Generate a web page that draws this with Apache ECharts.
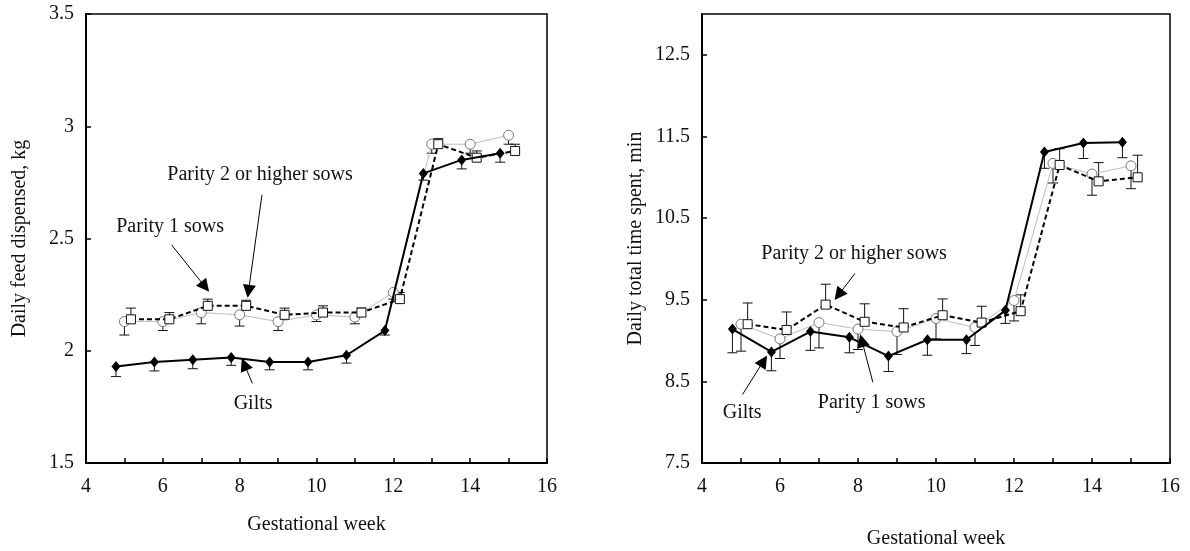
<!DOCTYPE html>
<html>
<head>
<meta charset="utf-8">
<script src="https://cdn.jsdelivr.net/npm/echarts@6/dist/echarts.min.js"></script>
<style>
  html, body { margin: 0; padding: 0; background: #fff; }
  #chart { width: 1190px; height: 551px; }
</style>
</head>
<body>
<div id="chart"></div>
<script>
// gestational week (each group is nudged sideways when drawn)
const weeks = [5, 6, 7, 8, 9, 10, 11, 12, 13, 14, 15];

// left panel: daily feed dispensed, kg
const feedGilts    = [1.93, 1.95, 1.96, 1.97, 1.95, 1.95, 1.98, 2.09, 2.79, 2.85, 2.88];
const feedGiltsErr = [0.045, 0.04, 0.04, 0.035, 0.035, 0.035, 0.035, 0.02, 0.03, 0.04, 0.04];
const feedP1       = [2.13, 2.13, 2.17, 2.16, 2.13, 2.16, 2.15, 2.26, 2.92, 2.92, 2.96];
const feedP1Err    = [0.06, 0.04, 0.05, 0.05, 0.04, 0.03, 0.03, 0.03, 0.04, 0.04, 0.04];
const feedP2       = [2.14, 2.14, 2.20, 2.20, 2.16, 2.17, 2.17, 2.23, 2.92, 2.86, 2.89];
const feedP2Err    = [0.05, 0.03, 0.03, 0.025, 0.03, 0.03, 0.02, 0.03, 0.025, 0.03, 0.03];

// right panel: daily total time spent, min
const timeGilts    = [9.14, 8.86, 9.11, 9.04, 8.81, 9.01, 9.01, 9.37, 11.31, 11.42, 11.43];
const timeGiltsErr = [0.29, 0.23, 0.23, 0.19, 0.19, 0.19, 0.17, 0.16, 0.2, 0.19, 0.19];
const timeP1       = [9.20, 9.02, 9.22, 9.14, 9.11, 9.27, 9.16, 9.49, 11.17, 11.04, 11.14];
const timeP1Err    = [0.33, 0.24, 0.31, 0.25, 0.28, 0.25, 0.22, 0.25, 0.24, 0.26, 0.28];
const timeP2       = [9.20, 9.13, 9.44, 9.23, 9.16, 9.31, 9.22, 9.36, 11.15, 10.95, 11.00];
const timeP2Err    = [0.26, 0.22, 0.25, 0.22, 0.23, 0.20, 0.20, 0.20, 0.20, 0.23, 0.27];

const feedTicks = [1.5, 2, 2.5, 3, 3.5];
const timeTicks = [7.5, 8.5, 9.5, 10.5, 11.5, 12.5];

// annotation text [label, x, y] and arrows [x1, y1, x2, y2] in data units
const feedNotes = [['Parity 2 or higher sows', 8.53, 2.783], ['Parity 1 sows', 6.19, 2.553], ['Gilts', 8.35, 1.766]];
const feedArrows = [[8.58, 2.694, 8.23, 2.265], [6.23, 2.471, 7.1, 2.285], [8.33, 1.855, 8.12, 1.94]];
const timeNotes = [['Parity 2 or higher sows', 7.9, 10.06], ['Parity 1 sows', 8.35, 8.24], ['Gilts', 5.03, 8.11]];
const timeArrows = [[7.92, 9.82, 7.5, 9.56], [8.38, 8.49, 8.1, 9.0], [5.04, 8.34, 5.58, 8.75]];

const SHIFT_GILTS = -0.22, SHIFT_P1 = 0, SHIFT_P2 = 0.17;
const FONT = '"Liberation Serif", "Times New Roman", serif';

const pts = (ys, shift) => weeks.map((w, i) => [w + shift, ys[i]]);

function errorBars(ys, errs, shift, dir, idx) {
  return {
    type: 'custom', xAxisIndex: idx, yAxisIndex: idx, z: 1, silent: true,
    data: weeks.map((w, i) => [w + shift, ys[i], ys[i] + dir * errs[i]]),
    encode: { x: 0, y: [1, 2] },
    renderItem(params, api) {
      const a = api.coord([api.value(0), api.value(1)]);
      const b = api.coord([api.value(0), api.value(2)]);
      const st = { stroke: '#111', lineWidth: 1 };
      return { type: 'group', children: [
        { type: 'line', shape: { x1: a[0], y1: a[1], x2: b[0], y2: b[1] }, style: st },
        { type: 'line', shape: { x1: b[0] - 5, y1: b[1], x2: b[0] + 5, y2: b[1] }, style: st }
      ] };
    }
  };
}

function lines(g, p1, p2, idx, notes, arrows) {
  return [
    errorBars(g[0], g[1], SHIFT_GILTS, -1, idx),
    errorBars(p1[0], p1[1], SHIFT_P1, -1, idx),
    errorBars(p2[0], p2[1], SHIFT_P2, 1, idx),
    {
      type: 'line', xAxisIndex: idx, yAxisIndex: idx, z: 3, data: pts(p1[0], SHIFT_P1),
      symbol: 'circle', symbolSize: 10,
      lineStyle: { color: '#bdbdbd', width: 1 },
      itemStyle: { color: '#fff', borderColor: '#777', borderWidth: 1 }
    },
    {
      type: 'line', xAxisIndex: idx, yAxisIndex: idx, z: 4, data: pts(p2[0], SHIFT_P2),
      symbol: 'rect', symbolSize: 9,
      lineStyle: { color: '#000', width: 2, type: [5, 3] },
      itemStyle: { color: '#fff', borderColor: '#111', borderWidth: 1 }
    },
    {
      type: 'line', xAxisIndex: idx, yAxisIndex: idx, z: 5, data: pts(g[0], SHIFT_GILTS),
      symbol: 'diamond', symbolSize: [9, 11],
      lineStyle: { color: '#000', width: 2 },
      itemStyle: { color: '#000' },
      markLine: {
        silent: true, animation: false, symbol: ['none', 'triangle'], symbolSize: 13,
        lineStyle: { color: '#000', width: 1, type: 'solid' },
        itemStyle: { color: '#000' }, label: { show: false },
        data: arrows.map(a => [{ coord: [a[0], a[1]] }, { coord: [a[2], a[3]] }])
      },
      markPoint: {
        silent: true, animation: false, symbol: 'circle', symbolSize: 1,
        itemStyle: { color: 'rgba(0,0,0,0)' },
        label: { show: true, position: 'inside', formatter: '{b}', color: '#111', fontSize: 20, fontFamily: FONT },
        data: notes.map(n => ({ name: n[0], coord: [n[1], n[2]] }))
      }
    }
  ];
}

const xAxisBase = (idx, gap) => ({
  type: 'value', gridIndex: idx, min: 4, max: 16, interval: 1,
  name: 'Gestational week', nameLocation: 'middle', nameGap: gap,
  nameTextStyle: { fontFamily: FONT, fontSize: 20, color: '#111' },
  axisLine: { show: true, lineStyle: { color: '#000', width: 2 } },
  axisTick: { show: true, inside: true, length: 5, lineStyle: { color: '#000', width: 1.5 } },
  axisLabel: { fontFamily: FONT, fontSize: 20, color: '#111', margin: 14,
    formatter: v => (v % 2 === 0 ? String(v) : '') },
  splitLine: { show: false }
});

const chart = echarts.init(document.getElementById('chart'), null, { renderer: 'canvas' });
chart.setOption({
  animation: false,
  backgroundColor: '#fff',
  grid: [
    { left: 86, top: 14, width: 461, height: 449, show: true, borderColor: '#000', borderWidth: 1.5,
      outerBoundsMode: 'none', containLabel: false },
    { left: 702, top: 14, width: 468, height: 449, show: true, borderColor: '#000', borderWidth: 1.5,
      outerBoundsMode: 'none', containLabel: false }
  ],
  xAxis: [xAxisBase(0, 52), xAxisBase(1, 66)],
  yAxis: [
    {
      type: 'value', gridIndex: 0, min: 1.5, max: 3.5, interval: 0.5,
      name: 'Daily feed dispensed, kg', nameLocation: 'middle', nameGap: 56,
      nameTextStyle: { fontFamily: FONT, fontSize: 20, color: '#111' },
      axisLine: { show: true, lineStyle: { color: '#000', width: 2 } },
      axisTick: { show: true, inside: true, length: 5, lineStyle: { color: '#000', width: 1.5 } },
      axisLabel: { fontFamily: FONT, fontSize: 20, color: '#111', margin: 12,
        customValues: feedTicks, formatter: v => String(v) },
      splitLine: { show: false }
    },
    {
      type: 'value', gridIndex: 1, min: 7.5, max: 13,
      name: 'Daily total time spent, min', nameLocation: 'middle', nameGap: 56,
      nameTextStyle: { fontFamily: FONT, fontSize: 20, color: '#111' },
      axisLine: { show: true, lineStyle: { color: '#000', width: 2 } },
      axisTick: { show: true, inside: true, length: 5, customValues: timeTicks,
        lineStyle: { color: '#000', width: 1.5 } },
      axisLabel: { fontFamily: FONT, fontSize: 20, color: '#111', margin: 12,
        customValues: timeTicks, formatter: v => String(v) },
      splitLine: { show: false }
    }
  ],
  series: [
    ...lines([feedGilts, feedGiltsErr], [feedP1, feedP1Err], [feedP2, feedP2Err], 0, feedNotes, feedArrows),
    ...lines([timeGilts, timeGiltsErr], [timeP1, timeP1Err], [timeP2, timeP2Err], 1, timeNotes, timeArrows)
  ]
});
</script>
</body>
</html>
